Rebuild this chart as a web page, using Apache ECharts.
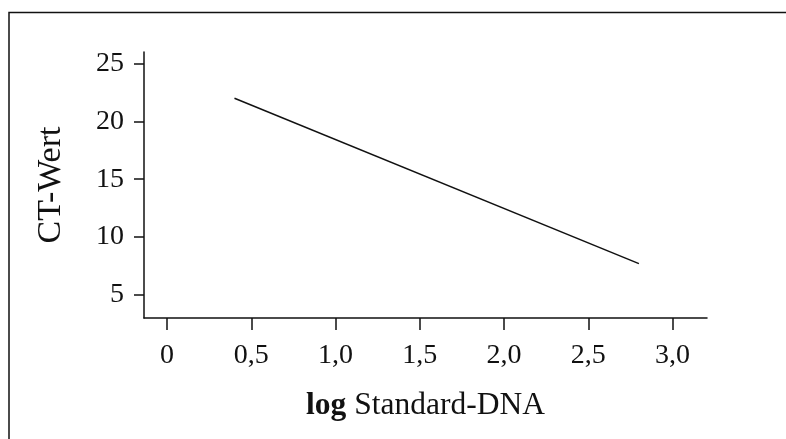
<!DOCTYPE html>
<html>
<head>
<meta charset="utf-8">
<script src="https://cdn.jsdelivr.net/npm/echarts@6/dist/echarts.min.js"></script>
<style>
html,body{margin:0;padding:0;background:#fff;}
#chart{width:786px;height:439px;}
</style>
</head>
<body>
<div id="chart"></div>
<script>
// Data
const xTicks = [0, 0.5, 1.0, 1.5, 2.0, 2.5, 3.0];
const xTickLabels = ['0', '0,5', '1,0', '1,5', '2,0', '2,5', '3,0'];
const yTicks = [5, 10, 15, 20, 25];
const lineX = [0.4, 2.8];
const lineY = [22.0, 7.7];

const FONT = '"Liberation Serif", "Times New Roman", serif';
const chart = echarts.init(document.getElementById('chart'), null, {renderer: 'canvas'});

const option = {
  backgroundColor: '#fff',
  animation: false,
  graphic: [{
    type: 'rect',
    shape: {x: 9, y: 12.5, width: 820, height: 460},
    style: {fill: 'none', stroke: '#111', lineWidth: 1.5},
    silent: true
  }],
  grid: {left: 144, top: 52, right: 79, bottom: 121, containLabel: false},
  xAxis: {
    type: 'value',
    min: -0.137,
    max: 3.204,
    name: '{b|log} Standard-DNA',
    nameLocation: 'middle',
    nameGap: 72,
    nameTextStyle: {
      fontFamily: FONT, fontSize: 31.5, color: '#111',
      rich: {b: {fontFamily: FONT, fontSize: 31.5, fontWeight: 'bold', color: '#111'}}
    },
    axisLine: {onZero: false, lineStyle: {color: '#111', width: 1.5}},
    axisTick: {show: true, inside: false, length: 12, customValues: xTicks, lineStyle: {color: '#111', width: 1.5}},
    axisLabel: {
      customValues: xTicks,
      margin: 24,
      fontFamily: FONT, fontSize: 28, color: '#111',
      formatter: function (v) {
        const i = xTicks.findIndex(t => Math.abs(t - v) < 1e-6);
        return i >= 0 ? xTickLabels[i] : '';
      }
    },
    splitLine: {show: false}
  },
  yAxis: {
    type: 'value',
    min: 3,
    max: 26,
    name: 'CT-Wert',
    nameLocation: 'middle',
    nameRotate: 90,
    nameGap: 76,
    nameTextStyle: {fontFamily: FONT, fontSize: 34, color: '#111'},
    axisLine: {show: true, onZero: false, lineStyle: {color: '#111', width: 1.5}},
    axisTick: {show: true, inside: false, length: 10, customValues: yTicks, lineStyle: {color: '#111', width: 1.5}},
    axisLabel: {
      customValues: yTicks,
      margin: 20,
      fontFamily: FONT, fontSize: 28, color: '#111'
    },
    splitLine: {show: false}
  },
  series: [{
    type: 'line',
    data: lineX.map((x, i) => [x, lineY[i]]),
    symbol: 'none',
    lineStyle: {color: '#111', width: 1.5},
    silent: true
  }]
};
chart.setOption(option);
</script>
</body>
</html>
